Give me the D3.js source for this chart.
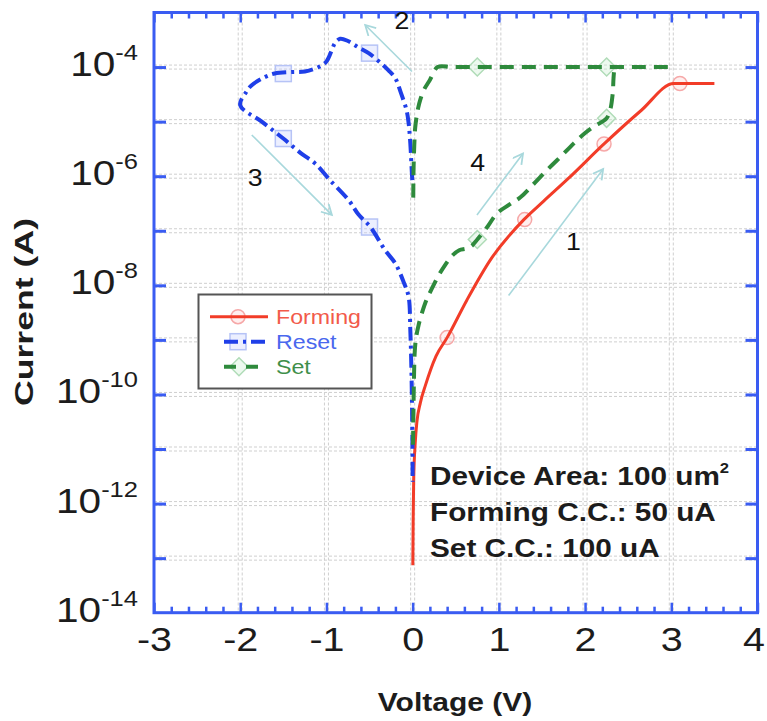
<!DOCTYPE html>
<html>
<head>
<meta charset="utf-8">
<script src="https://cdn.jsdelivr.net/npm/d3@7"></script>
<style>
  body { margin: 0; background: #fff; }
  svg { display: block; }
</style>
</head>
<body>
<script>
// ---- I–V sweeps of the resistive memory cell (voltage in V, current in A) ----
const formingV = [0.002, 0.006, 0.012, 0.03, 0.05, 0.09, 0.15, 0.27, 0.40, 0.63, 0.90, 1.29, 1.52, 1.80, 2.22, 2.65, 3.03, 3.50];
const formingI = [7.4e-14, 5.0e-13, 2.7e-12, 1.3e-11, 3.2e-11, 7.1e-11, 1.5e-10, 5.0e-10, 1.1e-9, 5.4e-9, 2.9e-8, 1.6e-7, 3.5e-7, 8.9e-7, 3.9e-6, 1.6e-5, 5.0e-5, 5.0e-5];
const formingMarkV = [0.40, 1.30, 2.22, 3.10];
const formingMarkI = [1.1e-9, 1.6e-7, 3.9e-6, 5.0e-5];

const resetV = [-0.004, -0.012, -0.027, -0.045, -0.07, -0.14, -0.20, -0.28, -0.36, -0.51, -0.63, -0.75, -0.84, -0.90, -0.94, -1.00, -1.09, -1.25, -1.40, -1.60, -1.71, -1.87, -1.93, -2.00,
                -1.75, -1.50, -1.29, -1.13, -0.96, -0.74, -0.63, -0.49, -0.32, -0.20, -0.10, -0.047, -0.027, -0.015, -0.007, -0.002, 0.0];
const resetI = [8.5e-7, 1.4e-6, 4.0e-6, 8.9e-6, 1.6e-5, 3.5e-5, 6.2e-5, 8.7e-5, 1.15e-4, 1.8e-4, 2.3e-4, 3.0e-4, 3.3e-4, 2.75e-4, 2.0e-4, 1.26e-4, 1.0e-4, 8.3e-5, 8.1e-5, 7.6e-5, 6.6e-5, 4.6e-5, 3.5e-5, 2.0e-5,
                1.0e-5, 4.9e-6, 2.6e-6, 1.7e-6, 8.5e-7, 3.6e-7, 2.0e-7, 1.17e-7, 4.4e-8, 2.5e-8, 1.1e-8, 6.2e-9, 1.5e-9, 3.2e-10, 5.9e-11, 1.0e-11, 2.5e-12];
const resetMarkV = [-0.5, -1.5, -1.5, -0.5];
const resetMarkI = [1.8e-4, 7.6e-5, 4.9e-6, 1.17e-7];

// set sweep: rising branch up to the compliance, then the return branch at low resistance
const setUpV = [0.004, 0.008, 0.015, 0.025, 0.04, 0.07, 0.11, 0.16, 0.22, 0.30, 0.38, 0.46, 0.54, 0.62, 0.68, 0.75, 0.87, 0.98, 1.12, 1.25, 1.40, 1.56, 1.72, 1.87, 2.00, 2.10, 2.20, 2.25, 2.29, 2.32, 2.33, 2.34];
const setUpI = [1.2e-11, 3.5e-11, 1.8e-10, 6.3e-10, 1.1e-9, 1.9e-9, 3.2e-9, 5.4e-9, 8.5e-9, 1.5e-8, 2.4e-8, 3.5e-8, 4.4e-8, 4.7e-8, 5.2e-8, 6.9e-8, 1.2e-7, 2.1e-7, 3.0e-7, 4.1e-7, 7.1e-7, 1.3e-6, 2.3e-6, 4.0e-6, 6.2e-6, 8.1e-6, 1.0e-5, 1.15e-5, 1.6e-5, 3.2e-5, 6.3e-5, 1.0e-4];
const setDownV = [2.96, 2.60, 2.20, 1.80, 1.40, 1.00, 0.70, 0.45, 0.29, 0.20, 0.13, 0.088, 0.065, 0.045, 0.03, 0.019, 0.01, 0.007];
const setDownI = [1.0e-4, 1.0e-4, 1.0e-4, 1.0e-4, 1.0e-4, 1.0e-4, 1.0e-4, 1.0e-4, 1.0e-4, 5.8e-5, 3.8e-5, 2.5e-5, 1.8e-5, 1.2e-5, 7.9e-6, 3.7e-6, 1.2e-6, 3.6e-7];
const setMarkV = [0.75, 2.25, 0.75, 2.25];
const setMarkI = [6.9e-8, 1.15e-5, 1.0e-4, 1.0e-4];

const seriesNames = ["Forming", "Reset", "Set"];
const xTickValues = [-3, -2, -1, 0, 1, 2, 3, 4];
const yLabelExps = [-14, -12, -10, -8, -6, -4];
const noteLines = ["Device Area: 100 um", "Forming C.C.: 50 uA", "Set C.C.: 100 uA"];

// sweep-order arrows
const stepLabels = ["1", "2", "3", "4"];
const stepTailV = [1.113, -0.008, -1.866, 0.746];
const stepTailI = [6.5e-9, 8.3e-5, 5.7e-6, 1.95e-7];
const stepHeadV = [2.21, -0.55, -0.937, 1.28];
const stepHeadI = [1.35e-6, 5.9e-4, 1.95e-7, 2.6e-6];
const stepTextV = [1.864, -0.125, -1.827, 0.753];
const stepTextI = [6.3e-8, 7.2e-4, 9.3e-7, 1.74e-6];

// ---- styling ----
const W = 767, H = 721;
const plotL = 154, plotR = 757.5, plotT = 12.5, plotB = 612.7;
const axisBlue = "#3a5cf2";
const red = "#f23c28", blue = "#1f3fe8", green = "#2e8a3c", arrowCol = "#a8d8dc";
const font = "'Liberation Sans', Arial, Helvetica, sans-serif";
const SX = 1.16; // horizontal text stretch

const svg = d3.select("body").append("svg").attr("width", W).attr("height", H);

const x = d3.scaleLinear().domain([-3, 4]).range([plotL, plotR]);
const y = d3.scaleLog().domain([1e-14, 1e-3]).range([plotB, plotT]);

// ---- grid (drawn as paired thin dashed lines) ----
const grid = svg.append("g");
const gridX = d3.range(-2, 4);
const gridY = d3.range(-13, -3).map(e => Math.pow(10, e));
[-2, 2].forEach(off => {
  grid.selectAll(null).data(gridX).join("line")
    .attr("x1", d => x(d) + off).attr("x2", d => x(d) + off)
    .attr("y1", plotT).attr("y2", plotB)
    .attr("stroke", "#cfcfcf").attr("stroke-width", 1).attr("stroke-dasharray", "3,2");
  grid.selectAll(null).data(gridY).join("line")
    .attr("y1", d => y(d) + off).attr("y2", d => y(d) + off)
    .attr("x1", plotL).attr("x2", plotR)
    .attr("stroke", "#cfcfcf").attr("stroke-width", 1).attr("stroke-dasharray", "3,2");
});

// ---- markers (pale, under the curves) ----
const marks = svg.append("g");
const diamond = "M0,-9L9,0L0,9L-9,0Z";
marks.selectAll(null).data(d3.zip(formingMarkV, formingMarkI)).join("circle")
  .attr("cx", d => x(d[0])).attr("cy", d => y(d[1])).attr("r", 7)
  .attr("fill", "rgba(255,190,190,0.25)").attr("stroke", "#f6a8a8").attr("stroke-width", 1.5);
marks.selectAll(null).data(d3.zip(resetMarkV, resetMarkI)).join("rect")
  .attr("x", d => x(d[0]) - 8).attr("y", d => y(d[1]) - 8).attr("width", 16).attr("height", 16)
  .attr("fill", "rgba(200,210,255,0.35)").attr("stroke", "#b6c3f6").attr("stroke-width", 1.5);
marks.selectAll(null).data(d3.zip(setMarkV, setMarkI)).join("path")
  .attr("transform", d => `translate(${x(d[0])},${y(d[1])})`).attr("d", diamond)
  .attr("fill", "rgba(210,240,215,0.4)").attr("stroke", "#b0dcb8").attr("stroke-width", 1.5);

// ---- curves ----
const line = d3.line().x(d => x(d[0])).y(d => y(d[1])).curve(d3.curveCatmullRom.alpha(0.5));
const curves = svg.append("g").attr("fill", "none").attr("stroke-linecap", "butt");
curves.append("path").datum(d3.zip(formingV, formingI))
  .attr("d", d3.line().x(d => x(d[0])).y(d => y(d[1])).curve(d3.curveMonotoneX))
  .attr("stroke", red).attr("stroke-width", 3);
curves.append("path").datum(d3.zip(resetV, resetI)).attr("d", line)
  .attr("stroke", blue).attr("stroke-width", 4).attr("stroke-dasharray", "14,5,3,5");
curves.append("path").datum(d3.zip(setUpV, setUpI)).attr("d", line)
  .attr("stroke", green).attr("stroke-width", 4).attr("stroke-dasharray", "14,8");
curves.append("path").datum(d3.zip(setDownV, setDownI)).attr("d", line)
  .attr("stroke", green).attr("stroke-width", 4).attr("stroke-dasharray", "14,8");

// ---- frame and ticks ----
function clean(g, w) {
  g.select(".domain").remove();
  g.selectAll(".tick line").attr("stroke", axisBlue).attr("stroke-width", w);
}
const minorX = d3.range(-3, 4.001, 0.2).map(v => Math.round(v * 10) / 10).filter(v => Math.abs(v - Math.round(v)) > 1e-6);
const decades = d3.range(-13, -3).map(e => Math.pow(10, e));

svg.append("g").attr("transform", `translate(0,${plotB})`)
  .call(d3.axisBottom(x).tickValues(minorX).tickSizeInner(-6).tickSizeOuter(0).tickFormat(""))
  .call(g => clean(g, 2.5));
svg.append("g").attr("transform", `translate(0,${plotT})`)
  .call(d3.axisTop(x).tickValues(minorX).tickSizeInner(-6).tickSizeOuter(0).tickFormat(""))
  .call(g => clean(g, 2.5));
svg.append("g").attr("transform", `translate(0,${plotT})`)
  .call(d3.axisTop(x).tickValues(xTickValues).tickSizeInner(-10).tickSizeOuter(0).tickFormat(""))
  .call(g => clean(g, 2.5));
svg.append("g").attr("transform", `translate(${plotR},0)`)
  .call(d3.axisRight(y).tickValues(decades).tickSizeInner(-12).tickSizeOuter(0).tickFormat(""))
  .call(g => clean(g, 3));

// bottom axis with labels (the last one nudged in to stay inside the page)
svg.append("g").attr("transform", `translate(0,${plotB})`)
  .call(d3.axisBottom(x).tickValues(xTickValues).tickSizeInner(-10).tickSizeOuter(0).tickPadding(14).tickFormat(d => String(d)))
  .call(g => clean(g, 2.5))
  .call(g => g.selectAll(".tick text")
    .attr("font-family", font).attr("font-size", 34).attr("fill", "#1c1c1c")
    .attr("x", d => d === 4 ? -3.5 : 0)
    .attr("dy", "0.71em").attr("transform", `scale(${SX},1)`));

// left axis: ticks every decade, labels every other decade
svg.append("g").attr("transform", `translate(${plotL},0)`)
  .call(d3.axisLeft(y).tickValues(decades).tickSizeInner(-12).tickSizeOuter(0).tickFormat(""))
  .call(g => clean(g, 3));
const yLab = svg.append("g").attr("font-family", font).attr("fill", "#1c1c1c");
yLabelExps.forEach(e => {
  const t = yLab.append("text")
    .attr("text-anchor", "end")
    .attr("transform", `translate(${plotL - 16},${y(Math.pow(10, e)) + 9}) scale(${SX},1)`);
  t.append("tspan").attr("font-size", 35).text("10");
  t.append("tspan").attr("font-size", 22).attr("dy", -16).text(String(e));
});

svg.append("rect").attr("x", plotL).attr("y", plotT)
  .attr("width", plotR - plotL).attr("height", plotB - plotT)
  .attr("fill", "none").attr("stroke", axisBlue).attr("stroke-width", 3);

// ---- axis titles ----
svg.append("text").attr("font-family", font).attr("font-weight", "bold").attr("font-size", 25)
  .attr("fill", "#1c1c1c").attr("text-anchor", "middle")
  .attr("transform", `translate(455,711) scale(${SX + 0.04},1)`).text("Voltage (V)");
svg.append("text").attr("font-family", font).attr("font-weight", "bold").attr("font-size", 25)
  .attr("fill", "#1c1c1c").attr("text-anchor", "middle")
  .attr("transform", "translate(33,312) rotate(-90)")
  .attr("textLength", 188).attr("lengthAdjust", "spacingAndGlyphs").text("Current (A)");

// ---- sweep arrows ----
svg.append("defs").append("marker").attr("id", "ah")
  .attr("markerUnits", "userSpaceOnUse").attr("markerWidth", 14).attr("markerHeight", 14)
  .attr("refX", 11).attr("refY", 6).attr("orient", "auto")
  .append("path").attr("d", "M1,0.5L11,6L1,11.5").attr("fill", "none")
  .attr("stroke", arrowCol).attr("stroke-width", 1.8);
const steps = svg.append("g");
stepLabels.forEach((s, i) => {
  steps.append("line")
    .attr("x1", x(stepTailV[i])).attr("y1", y(stepTailI[i]))
    .attr("x2", x(stepHeadV[i])).attr("y2", y(stepHeadI[i]))
    .attr("stroke", arrowCol).attr("stroke-width", 1.6).attr("marker-end", "url(#ah)");
  steps.append("text").attr("font-family", font).attr("font-size", 23).attr("fill", "#111")
    .attr("text-anchor", "middle")
    .attr("transform", `translate(${x(stepTextV[i])},${y(stepTextI[i]) + 8.3}) scale(${SX},1)`)
    .text(s);
});

// ---- legend ----
const leg = svg.append("g");
leg.append("rect").attr("x", 198.5).attr("y", 294.5).attr("width", 173).attr("height", 94)
  .attr("fill", "#fff").attr("stroke", "#555").attr("stroke-width", 2);
const legText = ["#f25a4a", "#4a68ee", "#3f8f4a"];
seriesNames.forEach((name, i) => {
  const cy = 316.7 + i * 25;
  const g = leg.append("g");
  if (i === 0) {
    g.append("circle").attr("cx", 238).attr("cy", cy).attr("r", 7)
      .attr("fill", "rgba(255,190,190,0.25)").attr("stroke", "#f6a8a8").attr("stroke-width", 1.5);
    g.append("line").attr("x1", 210).attr("x2", 268).attr("y1", cy).attr("y2", cy)
      .attr("stroke", red).attr("stroke-width", 3);
  } else if (i === 1) {
    g.append("rect").attr("x", 230).attr("y", cy - 8).attr("width", 16).attr("height", 16)
      .attr("fill", "rgba(200,210,255,0.35)").attr("stroke", "#b6c3f6").attr("stroke-width", 1.5);
    g.append("line").attr("x1", 224).attr("x2", 268).attr("y1", cy).attr("y2", cy)
      .attr("stroke", blue).attr("stroke-width", 4).attr("stroke-dasharray", "14,5,3,5");
  } else {
    g.append("path").attr("d", diamond).attr("transform", `translate(239,${cy})`)
      .attr("fill", "rgba(210,240,215,0.4)").attr("stroke", "#b0dcb8").attr("stroke-width", 1.5);
    g.append("line").attr("x1", 224).attr("x2", 268).attr("y1", cy).attr("y2", cy)
      .attr("stroke", green).attr("stroke-width", 4).attr("stroke-dasharray", "12,10");
  }
  g.append("text").attr("font-family", font).attr("font-size", 20).attr("fill", legText[i])
    .attr("transform", `translate(276,${cy + 7.3}) scale(${SX},1)`).text(name);
});

// ---- device notes ----
const notes = svg.append("g").attr("font-family", font).attr("font-weight", "bold").attr("fill", "#1c1c1c");
noteLines.forEach((s, i) => {
  const t = notes.append("text").attr("font-size", 25)
    .attr("transform", `translate(430,${485 + i * 35.8}) scale(1.19,1)`);
  t.append("tspan").text(s);
  if (i === 0) t.append("tspan").attr("font-size", 14).attr("dy", -12).text("2");
});
</script>
</body>
</html>
